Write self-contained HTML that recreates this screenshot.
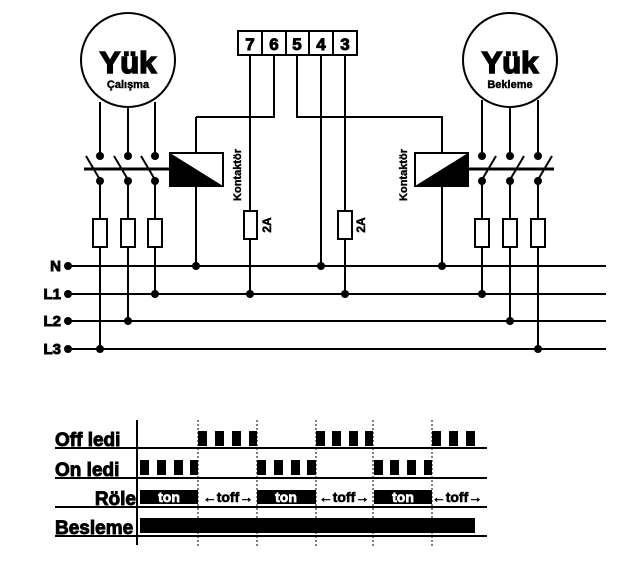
<!DOCTYPE html>
<html><head><meta charset="utf-8"><style>body{margin:0;background:#fff}svg{display:block}.b{stroke:#000;stroke-width:0.9}.w{stroke:#fff;stroke-width:0.7}</style></head><body>
<svg width="628" height="568" viewBox="0 0 628 568" xmlns="http://www.w3.org/2000/svg" font-family="Liberation Sans, Arial, sans-serif" font-weight="bold">
<g stroke="#000" stroke-width="2" fill="none">
<line x1="68" y1="266" x2="606" y2="266"/>
<line x1="68" y1="294" x2="606" y2="294"/>
<line x1="68" y1="321" x2="606" y2="321"/>
<line x1="68" y1="349" x2="606" y2="349"/>
<circle cx="128" cy="60" r="47"/>
<line x1="100" y1="102" x2="100" y2="156"/><line x1="128" y1="107" x2="128" y2="156"/><line x1="155" y1="102" x2="155" y2="156"/>
<line x1="100" y1="181" x2="100" y2="349"/><line x1="128" y1="181" x2="128" y2="321"/><line x1="155" y1="181" x2="155" y2="294"/>
<line x1="86" y1="156" x2="99" y2="178"/><line x1="114" y1="156" x2="127" y2="178"/><line x1="141" y1="156" x2="154" y2="178"/>
<line x1="84" y1="169" x2="170" y2="169" stroke-width="3"/>
<rect x="93" y="219" width="14" height="28" fill="#fff"/><rect x="121" y="219" width="14" height="28" fill="#fff"/><rect x="148" y="219" width="14" height="28" fill="#fff"/>
<rect x="170" y="153" width="53" height="33" fill="#fff"/>
<line x1="196" y1="117" x2="196" y2="153"/><line x1="196" y1="186" x2="196" y2="266"/>
<polyline points="196,117 274,117 274,55"/>
<rect x="238" y="31" width="119" height="24" fill="#fff"/>
<line x1="262" y1="31" x2="262" y2="55"/><line x1="286" y1="31" x2="286" y2="55"/><line x1="309" y1="31" x2="309" y2="55"/><line x1="333" y1="31" x2="333" y2="55"/>
<line x1="250" y1="55" x2="250" y2="294"/>
<polyline points="297,55 297,117 442,117 442,153"/>
<line x1="321" y1="55" x2="321" y2="266"/>
<line x1="345" y1="55" x2="345" y2="294"/>
<rect x="244" y="211" width="13" height="28" fill="#fff"/>
<rect x="338" y="211" width="14" height="28" fill="#fff"/>
<rect x="415" y="153" width="53" height="33" fill="#fff"/>
<line x1="442" y1="186" x2="442" y2="266"/>
<circle cx="510" cy="60" r="47"/>
<line x1="482" y1="100" x2="482" y2="156"/><line x1="510" y1="107" x2="510" y2="156"/><line x1="538" y1="100" x2="538" y2="156"/>
<line x1="482" y1="181" x2="482" y2="294"/><line x1="510" y1="181" x2="510" y2="321"/><line x1="538" y1="181" x2="538" y2="349"/>
<line x1="483" y1="178" x2="496" y2="156"/><line x1="511" y1="178" x2="524" y2="156"/><line x1="539" y1="178" x2="552" y2="156"/>
<line x1="468" y1="169" x2="554" y2="169" stroke-width="3"/>
<rect x="475" y="219" width="14" height="28" fill="#fff"/><rect x="503" y="219" width="14" height="28" fill="#fff"/><rect x="531" y="219" width="14" height="28" fill="#fff"/>
</g>
<polygon points="170,153 223,186 170,186" fill="#000"/>
<polygon points="468,153 468,186 415,186" fill="#000"/>
<g fill="#000">
<circle cx="68" cy="266" r="4"/><circle cx="68" cy="294" r="4"/><circle cx="68" cy="321" r="4"/><circle cx="68" cy="349" r="4"/>
<circle cx="100" cy="156" r="4"/><circle cx="128" cy="156" r="4"/><circle cx="155" cy="156" r="4"/>
<circle cx="100" cy="181" r="4"/><circle cx="128" cy="181" r="4"/><circle cx="155" cy="181" r="4"/>
<circle cx="482" cy="156" r="4"/><circle cx="510" cy="156" r="4"/><circle cx="538" cy="156" r="4"/>
<circle cx="482" cy="181" r="4"/><circle cx="510" cy="181" r="4"/><circle cx="538" cy="181" r="4"/>
<circle cx="196" cy="266" r="4"/><circle cx="321" cy="266" r="4"/><circle cx="442" cy="266" r="4"/>
<circle cx="155" cy="294" r="4"/><circle cx="250" cy="294" r="4"/><circle cx="345" cy="294" r="4"/><circle cx="482" cy="294" r="4"/>
<circle cx="128" cy="321" r="4"/><circle cx="510" cy="321" r="4"/>
<circle cx="100" cy="349" r="4"/><circle cx="538" cy="349" r="4"/>
</g>
<g fill="#000" font-weight="bold">
<text class="b" x="128" y="73" font-size="31" text-anchor="middle" style="stroke-width:1.6">Yük</text>
<text class="b" x="128" y="88" font-size="11" text-anchor="middle" style="stroke-width:0.4">Çalışma</text>
<text class="b" x="510" y="73" font-size="31" text-anchor="middle" style="stroke-width:1.6">Yük</text>
<text class="b" x="510" y="88" font-size="11" text-anchor="middle" style="stroke-width:0.4">Bekleme</text>
<g class="b" font-size="17" text-anchor="middle"><text x="250" y="50">7</text><text x="274" y="50">6</text><text x="297" y="50">5</text><text x="321" y="50">4</text><text x="345" y="50">3</text></g>
<g class="b" font-size="15" text-anchor="end"><text x="61" y="271">N</text><text x="61" y="299">L1</text><text x="61" y="326">L2</text><text x="61" y="354">L3</text></g>
<text class="b" style="stroke-width:0.4" font-size="11" transform="translate(241,175) rotate(-90)" text-anchor="middle">Kontaktör</text>
<text class="b" style="stroke-width:0.4" font-size="11" transform="translate(407,175) rotate(-90)" text-anchor="middle">Kontaktör</text>
<text class="b" style="stroke-width:0.5" font-size="12" transform="translate(271,225) rotate(-90)" text-anchor="middle">2A</text>
<text class="b" style="stroke-width:0.5" font-size="12" transform="translate(365,225) rotate(-90)" text-anchor="middle">2A</text>
</g>
<g stroke="#000" stroke-width="2">
<line x1="137" y1="420" x2="137" y2="545"/>
<line x1="55" y1="448" x2="487" y2="448"/><line x1="55" y1="478" x2="487" y2="478"/><line x1="55" y1="507" x2="487" y2="507"/><line x1="55" y1="536" x2="487" y2="536"/>
</g>
<g stroke="#000" stroke-width="1" stroke-dasharray="2,2">
<line x1="198" y1="420" x2="198" y2="548"/><line x1="257" y1="420" x2="257" y2="548"/><line x1="316" y1="420" x2="316" y2="548"/><line x1="373" y1="420" x2="373" y2="548"/><line x1="432" y1="420" x2="432" y2="548"/>
</g>
<g fill="#000">
<rect x="198" y="431" width="9" height="15"/><rect x="215" y="431" width="9" height="15"/><rect x="232" y="431" width="9" height="15"/><rect x="249" y="431" width="8" height="15"/>
<rect x="316" y="431" width="9" height="15"/><rect x="332" y="431" width="9" height="15"/><rect x="349" y="431" width="9" height="15"/><rect x="365" y="431" width="8" height="15"/>
<rect x="432" y="431" width="9" height="15"/><rect x="449" y="431" width="9" height="15"/><rect x="466" y="431" width="9" height="15"/>
<rect x="140" y="460" width="9" height="15"/><rect x="157" y="460" width="9" height="15"/><rect x="174" y="460" width="9" height="15"/><rect x="190" y="460" width="8" height="15"/>
<rect x="257" y="460" width="9" height="15"/><rect x="274" y="460" width="9" height="15"/><rect x="291" y="460" width="9" height="15"/><rect x="307" y="460" width="9" height="15"/>
<rect x="374" y="460" width="9" height="15"/><rect x="390" y="460" width="9" height="15"/><rect x="407" y="460" width="9" height="15"/><rect x="424" y="460" width="8" height="15"/>
<rect x="140" y="490" width="58" height="14"/><rect x="257" y="490" width="59" height="14"/><rect x="374" y="490" width="58" height="14"/>
<rect x="140" y="518" width="335" height="15"/>
</g>
<g font-size="14" font-weight="bold"><g class="w"><text x="169" y="502" text-anchor="middle" fill="#fff">ton</text><text x="286" y="502" text-anchor="middle" fill="#fff">ton</text><text x="403" y="502" text-anchor="middle" fill="#fff">ton</text></g>
<g class="b" style="stroke-width:0.6"><text x="228" y="502" text-anchor="middle" fill="#000">←toff→</text><text x="344" y="502" text-anchor="middle" fill="#000">←toff→</text><text x="457" y="502" text-anchor="middle" fill="#000">←toff→</text></g></g>
<g class="b" font-size="19" fill="#000"><text x="55" y="446">Off ledi</text><text x="55" y="476">On ledi</text><text x="136" y="505" text-anchor="end">Röle</text><text x="55" y="534">Besleme</text></g>
</svg>
</body></html>
